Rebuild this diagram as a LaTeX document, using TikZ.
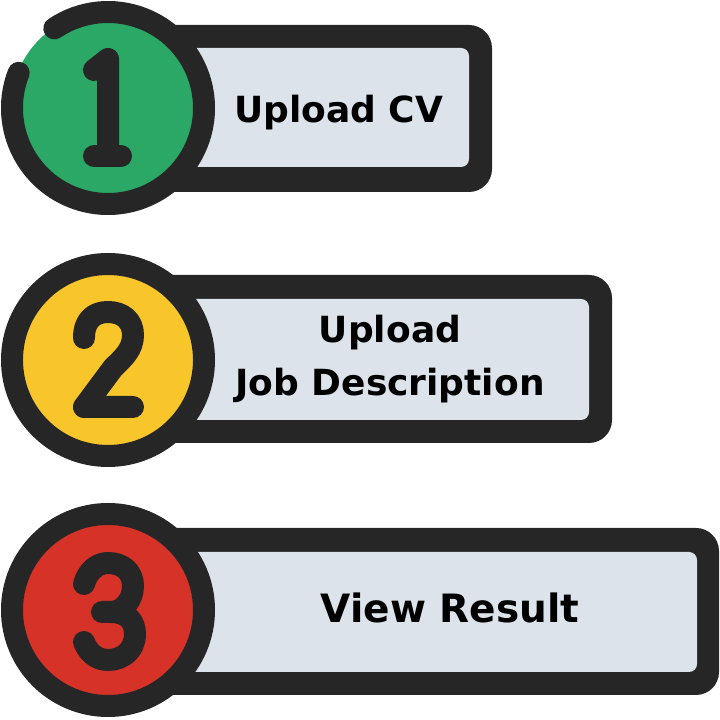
\documentclass[tikz,border=0pt]{standalone}
\usepackage{fontspec}
\setmainfont{DejaVu Sans}

\definecolor{ink}{HTML}{262626}
\definecolor{paper}{HTML}{DDE3EA}
\definecolor{stepgreen}{HTML}{2BA866}
\definecolor{stepyellow}{HTML}{F8C62B}
\definecolor{stepred}{HTML}{D63228}

\begin{document}
\begin{tikzpicture}[x = 1pt, y = 1pt,
	ring/.style = {draw = ink, line width = 22pt},
	digit/.style = {draw = ink, line width = 22pt, line cap = round, line join = round},
	steptext/.style = {font = \bfseries\fontsize{36}{53}\selectfont, align = center, anchor = base}]

	\useasboundingbox (0, 0) rectangle (720, 720);

	% Banners
	
	\fill [ink, rounded corners = 23pt] (150, 528) rectangle (492, 695);
	\fill [paper, rounded corners = 8pt] (150, 553) rectangle (469, 672);
	
	\fill [ink, rounded corners = 23pt] (150, 277) rectangle (612, 445);
	\fill [paper, rounded corners = 8pt] (150, 300) rectangle (589, 421);
	
	\fill [ink, rounded corners = 23pt] (150, 25) rectangle (719, 192);
	\fill [paper, rounded corners = 8pt] (150, 48) rectangle (697, 168);

	% Step 1 badge
	
	\fill [stepgreen] (108, 612) circle [radius = 97];
	\draw [ring, line cap = round] (108, 612) ++(158.5:96) arc [start angle = 158.5, end angle = 484, radius = 96];
	\begin{scope}[shift = {(108, 612)}]
		\draw [digit] (-14, 38) -- (0, 49) -- (0, -48);
		\draw [digit] (-14, -48) -- (13, -48);
	\end{scope}

	% Step 2 badge
	
	\filldraw [stepyellow, ring] (108, 360) circle [radius = 96];
	\begin{scope}[shift = {(108, 360)}]
		\draw [digit] (-24, 22) .. controls (-24, 40) and (-14, 48) .. (0, 48)
			.. controls (14, 48) and (25, 40) .. (25, 25)
			.. controls (25, 10) and (15, 2) .. (5, -8) -- (-24, -47) -- (25, -47);
	\end{scope}

	% Step 3 badge
	
	\filldraw [stepred, ring] (108, 110) circle [radius = 96];
	\begin{scope}[shift = {(108, 110)}]
		\draw [digit] (-24, 26) .. controls (-20, 40) and (-10, 47) .. (0, 47)
			.. controls (15, 47) and (25, 38) .. (25, 24)
			.. controls (25, 10) and (15, -2) .. (3, -2) -- (-6, -2);
		\draw [digit] (3, -2) .. controls (20, -2) and (27, -12) .. (27, -24)
			.. controls (27, -40) and (15, -50) .. (0, -50)
			.. controls (-12, -50) and (-20, -42) .. (-24, -32);
	\end{scope}

	% Labels
	
	\node [steptext] (cv) at (338.5, 597) {Upload CV};
	\node [steptext] (jd) at (390, 324) {Upload\\Job Description};
	\node [steptext, font = \bfseries\fontsize{39}{53}\selectfont] (result) at (450, 97) {View Result};

\end{tikzpicture}
\end{document}
